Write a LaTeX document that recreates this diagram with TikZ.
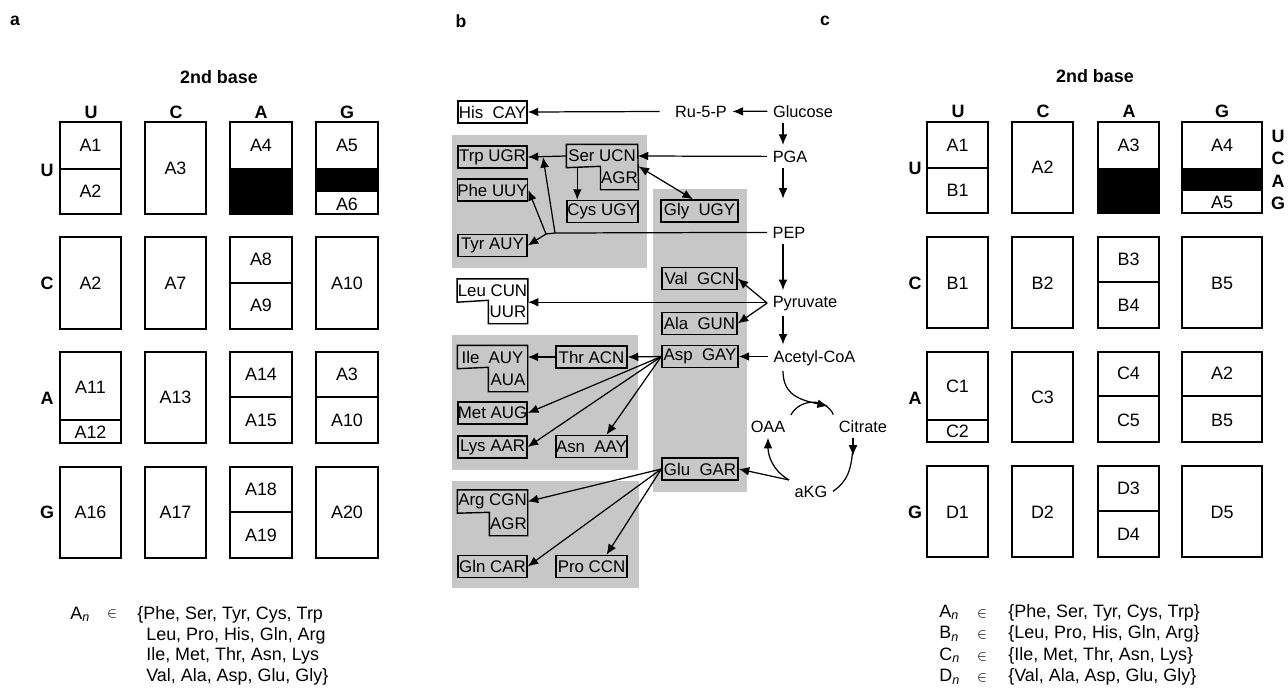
\documentclass[tikz,border=0pt]{standalone}
\usepackage{fontspec}
\setmainfont{Liberation Sans}
\usetikzlibrary{arrows.meta}

\tikzset{
  cell/.style={font=\fontsize{10.2}{12}\selectfont, inner sep=0pt},
  base/.style={font=\bfseries\fontsize{10.2}{12}\selectfont, inner sep=0pt},
  panel/.style={font=\bfseries\fontsize{10}{12}\selectfont, inner sep=0pt},
  frame/.style={line width=0.8pt},
  met/.style={font=\fontsize{9.3}{11}\selectfont, inner sep=3pt},
  aa/.style={draw, line width=0.8pt, minimum height=0.44cm, inner sep=0pt,
    font=\fontsize{9.6}{11}\selectfont},
  aapart/.style={aa, draw=none},
  zone/.style={fill=black!22},
  flow/.style={->, line width=0.7pt},
}

\begin{document}
\begin{tikzpicture}[x=0.02cm, y=-0.02cm, >={Latex[length=6pt,width=5pt]}]
  \useasboundingbox (0,0) rectangle (1288,687);

  % ---- panel a
  \node[panel] (la) at (15,21) {a};
  \node[base] (basea) at (219,77) {2nd base};
  \foreach \b/\x in {U/91,C/176,A/261,G/347}
    \node[base] (ahd\b) at (\x,112) {\b};
  \foreach \b/\y in {U/170,C/283,A/398,G/512}
    \node[base] (arw\b) at (47,\y) {\b};
  \fill (230,168) rectangle (292,214);
  \fill (316,168) rectangle (378,192);
  \foreach \xa/\xb in {60/121,145/206,230/292,316/378}
    \foreach \ya/\yb in {122/214,237/329,352/443,467/558}
      \draw[frame] (\xa,\ya) rectangle (\xb,\yb);
  \draw[frame] (60,169) -- (121,169);
  \draw[frame] (230,283) -- (292,283);
  \draw[frame] (60,420) -- (121,420);
  \draw[frame] (230,397) -- (292,397);
  \draw[frame] (316,397) -- (378,397);
  \draw[frame] (230,512) -- (292,512);
  \node[cell] (a1) at (90.5,145) {A1};
  \node[cell] (a2) at (90.5,191) {A2};
  \node[cell] (a3) at (175.5,168) {A3};
  \node[cell] (a4) at (261,145) {A4};
  \node[cell] (a5) at (347,145) {A5};
  \node[cell] (a6) at (347,204) {A6};
  \node[cell] (a2b) at (90.5,283) {A2};
  \node[cell] (a7) at (175.5,283) {A7};
  \node[cell] (a8) at (261,259) {A8};
  \node[cell] (a9) at (261,305) {A9};
  \node[cell] (a10) at (347,283) {A10};
  \node[cell] (a11) at (90.5,387) {A11};
  \node[cell] (a12) at (90.5,432) {A12};
  \node[cell] (a13) at (175.5,397) {A13};
  \node[cell] (a14) at (261,374) {A14};
  \node[cell] (a15) at (261,420) {A15};
  \node[cell] (a3b) at (347,374) {A3};
  \node[cell] (a10b) at (347,420) {A10};
  \node[cell] (a16) at (90.5,512) {A16};
  \node[cell] (a17) at (175.5,512) {A17};
  \node[cell] (a18) at (261,489) {A18};
  \node[cell] (a19) at (261,535) {A19};
  \node[cell] (a20) at (347,512) {A20};
  \node[cell, anchor=base west] (ana) at (70,619) {A\textsubscript{\itshape n}};
  \node[cell] (ina) at (112,614) {\fontsize{8}{9}\selectfont$\in$};
  \node[cell, anchor=base west] (seta1) at (137,619) {\{Phe, Ser, Tyr, Cys, Trp};
  \node[cell, anchor=base west] (seta2) at (146,640) {Leu, Pro, His, Gln, Arg};
  \node[cell, anchor=base west] (seta3) at (146,660.5) {Ile, Met, Thr, Asn, Lys};
  \node[cell, anchor=base west] (seta4) at (146,681) {Val, Ala, Asp, Glu, Gly\}};

  % ---- panel b
  \node[panel] (lb) at (461,21) {b};
  \fill[zone] (452,135) rectangle (647,268);
  \fill[zone] (653,189) rectangle (747,492);
  \fill[zone] (452,335) rectangle (638,470);
  \fill[zone] (452,481) rectangle (639,588);

  \node[aa, minimum width=1.38cm] (his) at (492.5,112) {His~~CAY};
  \node[aa, minimum width=1.38cm] (trp) at (492.5,157) {Trp UGR};
  \node[aa, minimum width=1.38cm] (phe) at (492.5,190) {Phe UUY};
  \node[aa, minimum width=1.38cm] (tyr) at (492.5,245.5) {Tyr AUY};
  \node[aapart, minimum width=1.4cm] (ser) at (602,156) {Ser UCN};
  \node[aapart, minimum width=0.7cm] (seragr) at (619.5,178) {AGR};
  \draw[frame] (ser.north west) -- (ser.north east) -- (seragr.south east)
    -- (seragr.south west) -- (seragr.north west) -- (ser.south west) -- cycle;
  \node[aa, minimum width=1.42cm] (cys) at (602.5,211.5) {Cys UGY};
  \node[aa, minimum width=1.54cm] (gly) at (699.5,211) {Gly~~UGY};
  \node[aapart, minimum width=1.38cm] (leu) at (492.5,290.5) {Leu CUN};
  \node[aapart, minimum width=0.76cm] (leuuur) at (508,312) {UUR};
  \draw[frame] (leu.north west) -- (leu.north east) -- (leuuur.south east)
    -- (leuuur.south west) -- (leuuur.north west) -- (leu.south west) -- cycle;
  \node[aa, minimum width=1.5cm] (val) at (699.5,278.5) {Val~~GCN};
  \node[aa, minimum width=1.5cm] (ala) at (699.5,323.5) {Ala~~GUN};
  \node[aa, minimum width=1.52cm] (asp) at (700,356.5) {Asp~~GAY};
  \node[aa, minimum width=1.42cm] (thr) at (591.5,357) {Thr ACN};
  \node[aapart, minimum width=1.38cm] (ile) at (492.5,357) {Ile~~AUY};
  \node[aapart, minimum width=0.76cm, minimum height=0.46cm] (ileaua) at (508,379.5) {AUA};
  \draw[frame] (ile.north west) -- (ile.north east) -- (ileaua.south east)
    -- (ileaua.south west) -- (ileaua.north west) -- (ile.south west) -- cycle;
  \node[aa, minimum width=1.38cm] (met) at (492.5,413) {Met AUG};
  \node[aa, minimum width=1.38cm] (lys) at (492.5,447) {Lys AAR};
  \node[aa, minimum width=1.42cm] (asn) at (591.5,446.5) {Asn~~AAY};
  \node[aa, minimum width=1.52cm] (glu) at (700,469) {Glu~~GAR};
  \node[aapart, minimum width=1.38cm] (arg) at (492.5,501.5) {Arg CGN};
  \node[aapart, minimum width=0.74cm] (argagr) at (508.5,524) {AGR};
  \draw[frame] (arg.north west) -- (arg.north east) -- (argagr.south east)
    -- (argagr.south west) -- (argagr.north west) -- (arg.south west) -- cycle;
  \node[aa, minimum width=1.38cm] (gln) at (492.5,566.5) {Gln CAR};
  \node[aa, minimum width=1.42cm] (pro) at (591.5,566.5) {Pro CCN};

  \node[met, anchor=base] (rup) at (701,117) {Ru-5-P};
  \node[met, anchor=base] (glc) at (803,117) {Glucose};
  \node[met, anchor=base] (pga) at (790,162) {PGA};
  \node[met, anchor=base] (pep) at (789,238) {PEP};
  \node[met, anchor=base] (pyr) at (805,307) {Pyruvate};
  \node[met, anchor=base west] (acoa) at (768,362) {Acetyl-CoA};
  \node[met, anchor=base] (oaa) at (768,432) {OAA};
  \node[met, anchor=base] (cit) at (863,432) {Citrate};
  \node[met, anchor=base] (akg) at (811,497) {aKG};

  \coordinate (mx) at (783,0);
  \coordinate (cx) at (853,0);
  \coordinate (pepj) at (555,233);
  \coordinate (pepk) at (546,234);
  \coordinate (trpj) at (543,157);
  \coordinate (cyc) at (828,406);

  \draw[flow] (glc.west) -- (rup.east);
  \draw[flow, shorten <=0.2cm] (rup.west) -- (his.east);
  \draw[flow] (glc.south -| mx) -- (pga.north -| mx);
  \draw[flow] (pga.west) -- (ser.east);
  \draw[flow, shorten >=0.45cm] (pga.south -| mx) -- (pep.north -| mx);
  \draw[line width=0.7pt] (pep.west) -- (pepj) -- (pepk);
  \draw[flow] (pepj) -- (trpj);
  \draw[flow] (pepk) -- (phe.east);
  \draw[flow] (pepk) -- (tyr.east);
  \draw[flow] (ser.west) -- (trp.east);
  \draw[flow] ([xshift=0.22cm]ser.south west) -- ([xshift=0.22cm]ser.south west |- cys.north);
  \draw[flow, <->] (seragr.north east) -- ([xshift=-0.13cm]gly.north);
  \draw[flow] (pep.south -| mx) -- (pyr.north -| mx);
  \draw[flow] (pyr.west) -- (val.east);
  \draw[flow] (pyr.west) -- (ala.east);
  \draw[flow] (pyr.west |- leu.south east) -- (leu.south east);
  \draw[flow] (pyr.south -| mx) -- (acoa.north -| mx);
  \draw[flow] (acoa.west |- asp.east) -- (asp.east);
  \draw[flow] (asp.west) -- (thr.east);
  \draw[flow] (thr.west) -- (ile.east);
  \draw[flow] (asp.west) -- (met.east);
  \draw[flow] (asp.west) -- (lys.east);
  \draw[flow] (asp.west) -- ([xshift=0.3cm]asn.north);

  % citric acid cycle
  \draw[line width=0.7pt] (oaa.north east) .. controls (800,398) and (826,398) .. (cit.north west);
  \draw[flow] (acoa.south -| mx) .. controls (783,395) and (800,400) .. (cyc);
  \draw[line width=0.7pt] (cit.south -| cx) .. controls (853,472) and (846,482) .. (akg.east);
  \draw[flow] (cit.south -| cx) -- ++(0,18);
  \draw[flow] (akg.north west) .. controls (772,470) and (768,455) .. (oaa.south);
  \draw[flow] (akg.north west) -- (glu.east);
  \draw[flow] (glu.west) -- (arg.east);
  \draw[flow] (glu.west) -- (gln.east);
  \draw[flow] (glu.west) -- ([xshift=0.3cm]pro.north);

  % ---- panel c
  \node[panel] (lc) at (825,21) {c};
  \node[base] (basec) at (1095,76) {2nd base};
  \foreach \b/\x in {U/958,C/1043,A/1129,G/1222}
    \node[base] (chd\b) at (\x,111) {\b};
  \foreach \b/\y in {U/168,C/283,A/398,G/512}
    \node[base] (crw\b) at (915,\y) {\b};
  \foreach \b/\y in {U/136,C/158,A/181,G/203}
    \node[base] (cth\b) at (1278,\y) {\b};
  \fill (1098,168) rectangle (1159,213);
  \fill (1182,168) rectangle (1262,191);
  \foreach \xa/\xb in {927/988,1012/1073,1098/1159,1182/1262}
    \foreach \ya/\yb in {122/213,237/328,352/442,466/557}
      \draw[frame] (\xa,\ya) rectangle (\xb,\yb);
  \draw[frame] (927,168) -- (988,168);
  \draw[frame] (1098,282) -- (1159,282);
  \draw[frame] (927,420) -- (988,420);
  \draw[frame] (1098,396) -- (1159,396);
  \draw[frame] (1182,396) -- (1262,396);
  \draw[frame] (1098,511) -- (1159,511);
  \node[cell] (c1) at (957.5,145) {A1};
  \node[cell] (c2) at (957.5,190) {B1};
  \node[cell] (c3) at (1042.5,167) {A2};
  \node[cell] (c4) at (1128.5,145) {A3};
  \node[cell] (c5) at (1222,145) {A4};
  \node[cell] (c6) at (1222,202) {A5};
  \node[cell] (c7) at (957.5,283) {B1};
  \node[cell] (c8) at (1042.5,283) {B2};
  \node[cell] (c9) at (1128.5,259) {B3};
  \node[cell] (c10) at (1128.5,305) {B4};
  \node[cell] (c11) at (1222,283) {B5};
  \node[cell] (c12) at (957.5,386) {C1};
  \node[cell] (c13) at (957.5,431) {C2};
  \node[cell] (c14) at (1042.5,397) {C3};
  \node[cell] (c15) at (1128.5,373) {C4};
  \node[cell] (c16) at (1128.5,420) {C5};
  \node[cell] (c17) at (1222,373) {A2};
  \node[cell] (c18) at (1222,420) {B5};
  \node[cell] (c19) at (957.5,512) {D1};
  \node[cell] (c20) at (1042.5,512) {D2};
  \node[cell] (c21) at (1128.5,488) {D3};
  \node[cell] (c22) at (1128.5,534) {D4};
  \node[cell] (c23) at (1222,512) {D5};
  \foreach \g/\s/\y in {A/{\{Phe, Ser, Tyr, Cys, Trp\}}/617,
                        B/{\{Leu, Pro, His, Gln, Arg\}}/638.5,
                        C/{\{Ile, Met, Thr, Asn, Lys\}}/660,
                        D/{\{Val, Ala, Asp, Glu, Gly\}}/681.5} {
    \node[cell, anchor=base west] (cn\g) at (939,\y) {\g\textsubscript{\itshape n}};
    \node[cell, anchor=base] (ci\g) at (982,\y) {\fontsize{8}{9}\selectfont$\in$};
    \node[cell, anchor=base west] (cs\g) at (1008,\y) {\s};
  }
\end{tikzpicture}
\end{document}
